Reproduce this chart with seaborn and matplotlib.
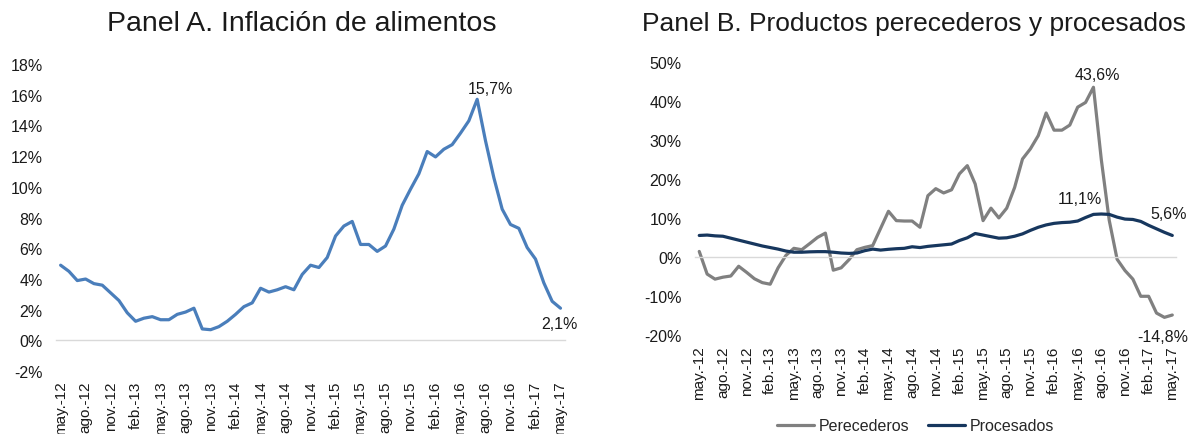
"""
Inflación de alimentos: Panel A (total) y Panel B (perecederos vs procesados)
Output : out.png
"""

import numpy as np
import pandas as pd
import matplotlib
matplotlib.use('Agg')
import matplotlib.pyplot as plt
from matplotlib.ticker import FuncFormatter
import seaborn as sns

sns.set_style('white')
plt.rcParams['font.family'] = ['Liberation Sans', 'DejaVu Sans']
plt.rcParams['axes.unicode_minus'] = False

# ── Data (annual % change, may-12 .. may-17) ──────────────────
tick_labels = [
    'may.-12', 'ago.-12', 'nov.-12', 'feb.-13', 'may.-13', 'ago.-13', 'nov.-13',
    'feb.-14', 'may.-14', 'ago.-14', 'nov.-14', 'feb.-15', 'may.-15', 'ago.-15',
    'nov.-15', 'feb.-16', 'may.-16', 'ago.-16', 'nov.-16', 'feb.-17', 'may.-17',
]

alimentos = [
    4.9, 4.5, 3.9, 4.0, 3.7, 3.6, 3.1, 2.6, 1.8, 1.25,
    1.45, 1.55, 1.35, 1.35, 1.7, 1.85, 2.1, 0.75, 0.7, 0.9,
    1.25, 1.7, 2.2, 2.45, 3.4, 3.15, 3.3, 3.5, 3.3, 4.3,
    4.9, 4.75, 5.4, 6.8, 7.45, 7.75, 6.25, 6.25, 5.8, 6.15,
    7.25, 8.8, 9.85, 10.85, 12.3, 11.95, 12.45, 12.75, 13.5, 14.3,
    15.7, 13.0, 10.6, 8.55, 7.55, 7.3, 6.05, 5.3, 3.75, 2.55,
    2.1,
]

perecederos = [
    1.5, -4.3, -5.6, -5.1, -4.8, -2.3, -3.85, -5.5, -6.5, -6.9,
    -2.7, 0.5, 2.3, 1.95, 3.5, 5.1, 6.2, -3.3, -2.7, -0.6,
    1.95, 2.55, 3.0, 7.4, 11.8, 9.4, 9.3, 9.3, 7.7, 15.8,
    17.6, 16.5, 17.3, 21.4, 23.5, 18.8, 9.4, 12.6, 10.1, 12.6,
    17.9, 25.2, 27.8, 31.2, 37.0, 32.6, 32.6, 33.9, 38.5, 39.7,
    43.6, 25.0, 9.5, -0.5, -3.4, -5.6, -10.0, -10.0, -14.3, -15.4,
    -14.8,
]

procesados = [
    5.6, 5.7, 5.5, 5.4, 4.9, 4.4, 3.9, 3.4, 2.9, 2.5,
    2.1, 1.6, 1.3, 1.3, 1.4, 1.45, 1.45, 1.3, 1.1, 1.0,
    1.1, 1.7, 2.1, 1.85, 2.05, 2.2, 2.3, 2.7, 2.5, 2.8,
    3.0, 3.2, 3.4, 4.3, 5.0, 6.1, 5.7, 5.3, 4.9, 5.0,
    5.4, 6.0, 6.9, 7.7, 8.3, 8.7, 8.9, 9.0, 9.3, 10.2,
    11.0, 11.1, 11.0, 10.3, 9.8, 9.7, 9.2, 8.2, 7.3, 6.4,
    5.6,
]

# ── Colours ───────────────────────────────────────────────────
BLUE = '#4A7EBB'
GRAY = '#808080'
NAVY = '#17375E'
AXIS = '#D9D9D9'
TEXT = '#1A1A1A'

n = len(alimentos)
mes = list(range(n))
df_a = pd.DataFrame({'mes': mes, 'valor': alimentos})
df_b = pd.DataFrame({
    'mes': mes + mes,
    'valor': perecederos + procesados,
    'serie': ['Perecederos'] * n + ['Procesados'] * n,
})


def pct(v):
    return f'{v:.1f}%'.replace('.', ',')


# ── Figure ────────────────────────────────────────────────────
fig = plt.figure(figsize=(11.91, 4.35), dpi=100)
ax_a = fig.add_axes([0.0474, 0.1444, 0.4267, 0.7062])
ax_b = fig.add_axes([0.5838, 0.2269, 0.4038, 0.6276])

sns.lineplot(data=df_a, x='mes', y='valor', color=BLUE, lw=2.3, ax=ax_a)
sns.lineplot(data=df_b, x='mes', y='valor', hue='serie',
             palette={'Perecederos': GRAY, 'Procesados': NAVY},
             lw=2.3, ax=ax_b)


def style_axis(ax, ylim, ystep, label_pad):
    # spine position first: moving it resets the tick objects
    for s in ['top', 'right', 'left']:
        ax.spines[s].set_visible(False)
    ax.spines['bottom'].set_position(('data', 0))
    ax.spines['bottom'].set_color(AXIS)
    ax.spines['bottom'].set_linewidth(1)

    ax.set_xlim(-0.5, n - 0.5)
    ax.set_ylim(*ylim)
    ax.set_yticks(np.arange(ylim[0], ylim[1] + ystep / 2, ystep))
    ax.yaxis.set_major_formatter(FuncFormatter(lambda v, p: f'{v:.0f}%'))
    ax.set_xticks(range(0, n, 3))
    ax.set_xticklabels(tick_labels)
    ax.set_xticks(np.arange(-0.5, n - 1, 3), minor=True)
    ax.tick_params(axis='x', which='major', length=0, pad=label_pad,
                   labelsize=11, labelcolor=TEXT, labelrotation=90)
    ax.tick_params(axis='x', which='minor', length=4, width=1,
                   color=AXIS, direction='out')
    ax.tick_params(axis='y', length=0, pad=10, labelsize=11.5, labelcolor=TEXT)
    ax.set_xlabel('')
    ax.set_ylabel('')
    ax.grid(False)


style_axis(ax_a, (-2, 18), 2, 29)
style_axis(ax_b, (-20, 50), 10, 63.5)

# ── Data labels ───────────────────────────────────────────────
lab = dict(textcoords='offset pixels', ha='center', va='baseline',
           fontsize=11.5, color=TEXT)

i = int(np.argmax(alimentos))
ax_a.annotate(pct(alimentos[i]), (i, alimentos[i]), xytext=(13, 6), **lab)
ax_a.annotate(pct(alimentos[-1]), (n - 1, alimentos[-1]), xytext=(-1, -20), **lab)

i = int(np.argmax(perecederos))
ax_b.annotate(pct(perecederos[i]), (i, perecederos[i]), xytext=(4, 8), **lab)
ax_b.annotate(pct(perecederos[-1]), (n - 1, perecederos[-1]), xytext=(-10, -26), **lab)
i = int(np.argmax(procesados))
ax_b.annotate(pct(procesados[i]), (i, procesados[i]), xytext=(-21, 11), **lab)
ax_b.annotate(pct(procesados[-1]), (n - 1, procesados[-1]), xytext=(-4, 17), **lab)

# ── Legend & titles ───────────────────────────────────────────
sns.move_legend(ax_b, 'center', bbox_to_anchor=(0.458, -0.332), ncol=2,
                frameon=False, title=None, fontsize=11.5,
                handlelength=2.3, columnspacing=1.2, handletextpad=0.3)

fig.text(302 / 1191, 1 - 31 / 435, 'Panel A. Inflación de alimentos',
         ha='center', va='baseline', fontsize=20.5, color=TEXT)
fig.text(913.5 / 1191, 1 - 31 / 435, 'Panel B. Productos perecederos y procesados',
         ha='center', va='baseline', fontsize=19, color=TEXT)

fig.savefig('out.png', dpi=100, facecolor='white')
print("Saved → out.png")
